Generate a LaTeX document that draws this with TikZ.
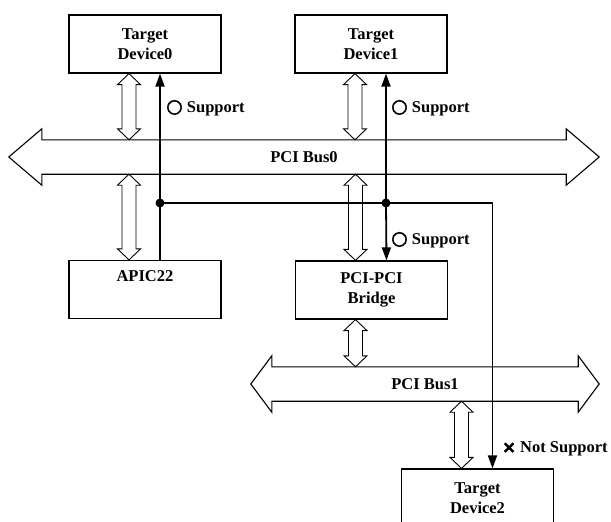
\documentclass[tikz,border=0pt]{standalone}
\usepackage{fontspec}
\setmainfont{Liberation Serif}
\newfontfamily\symfont[FakeBold=2.5]{DejaVu Sans}
\usetikzlibrary{arrows.meta}
\usetikzlibrary{calc}

\begin{document}
\begin{tikzpicture}[x=1pt,y=-1pt]
  \tikzset{unit/.style = {shape=rectangle,draw,line width=1.2pt,minimum width=152pt,minimum height=58pt,inner sep=0pt,align=center,font=\fontsize{16.5}{20}\selectfont\bfseries}}
  \tikzset{busshaft/.style = {shape=rectangle,minimum height=34pt,inner sep=0pt,font=\fontsize{16.5}{20}\selectfont\bfseries}}
  \tikzset{busline/.style = {line width=1.1pt}}
  \tikzset{hollow/.style = {draw,fill=white,line width=0.9pt}}
  \tikzset{sig/.style = {line width=1.8pt}}
  \tikzset{note/.style = {anchor=west,inner sep=0pt,font=\fontsize{16.5}{20}\selectfont\bfseries}}
  \tikzset{%
  tipA/.tip={Triangle[length=13pt,width=9pt]},
}

  \useasboundingbox (0,0) rectangle (611,522);

  \node[unit] (TD0) at (145,44) {Target\\Device0};
  \node[unit] (TD1) at (371,44) {Target\\Device1};
  \node[unit] (APIC) at (145,289.5) {APIC22\\\strut};
  \node[unit] (BR) at (371.5,290) {PCI-PCI\\Bridge};
  \node[unit] (TD2) at (477.5,498) {Target\\Device2};

  \node[busshaft, minimum width=524pt] (B0) at (304,157) {PCI Bus0};
  \node[busshaft, minimum width=306pt] (B1) at (425,384) {PCI Bus1};

  \foreach \bus/\hl in {B0/33, B1/21}
    \draw[busline] (\bus.north west) -- (\bus.north east) -- ++(0,-11) -- ($(\bus.east)+(\hl,0)$) -- ($(\bus.south east)+(0,11)$) -- (\bus.south east) -- (\bus.south west) -- ++(0,11) -- ($(\bus.west)-(\hl,0)$) -- ($(\bus.north west)+(0,-11)$) -- cycle;

  \foreach \from/\to in {TD0.south/B0.north, APIC.north/B0.south, TD1.south/B0.north, BR.north/B0.south, BR.south/B1.north, TD2.north/B1.south}{
    \coordinate (p) at ([xshift=-16pt]\from);
    \coordinate (q) at (p |- \to);
    \draw[hollow] (p) -- ($(p)!11pt!(q)+(11.5,0)$) -- ($(p)!11pt!(q)+(7,0)$) -- ($(q)!11pt!(p)+(7,0)$) -- ($(q)!11pt!(p)+(11.5,0)$) -- (q) -- ($(q)!11pt!(p)+(-11.5,0)$) -- ($(q)!11pt!(p)+(-7,0)$) -- ($(p)!11pt!(q)+(-7,0)$) -- ($(p)!11pt!(q)+(-11.5,0)$) -- cycle;
  }

  \coordinate (J0) at (160,203);
  \coordinate (J1) at (386,203);

  \draw[sig,-tipA] ([xshift=15pt]APIC.north) -- ([xshift=15pt]TD0.south);
  \draw[sig,-tipA] (J1) -- ([xshift=15pt]TD1.south);
  \draw[sig,-tipA] (J1) -- ([xshift=15pt]BR.north);
  \draw[sig,-tipA] (J0) -| ([xshift=15pt]TD2.north);
  \fill (J0) circle (4.5);
  \fill (J1) circle (4.5);

  \node[note] (S0) at (166,108) {{\symfont\fontsize{19}{19}\selectfont ○} Support};
  \node[note] (S1) at (391,108) {{\symfont\fontsize{19}{19}\selectfont ○} Support};
  \node[note] (S2) at (391,240) {{\symfont\fontsize{19}{19}\selectfont ○} Support};
  \node[note] (NS) at (502,449) {{\symfont ×} Not Support};

\end{tikzpicture}
\end{document}
